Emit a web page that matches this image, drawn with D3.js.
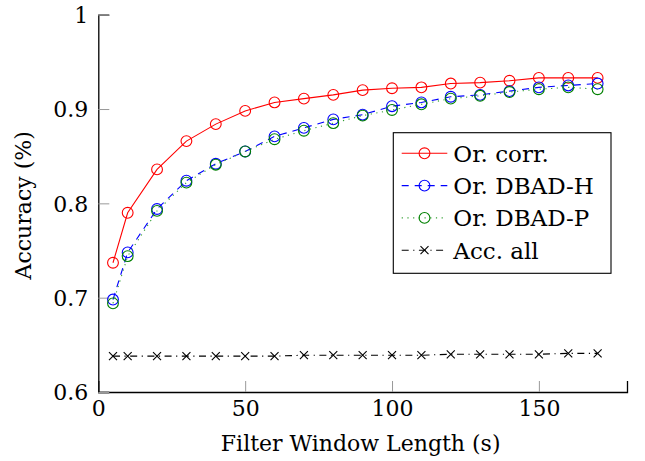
<!DOCTYPE html>
<html>
<head>
<meta charset="utf-8">
<script src="https://cdn.jsdelivr.net/npm/d3@7"></script>
<style>
    body { margin: 0; background: #fff; }
    svg { display: block; }
    svg text { font-family: "DejaVu Serif", "Liberation Serif", serif; fill: #000; }
    .tick text { font-size: 22px; }
</style>
</head>
<body>
<div id="chart"></div>
<script>
// filter window lengths (s)
const windowLengths = [5, 10, 20, 30, 40, 50, 60, 70, 80, 90, 100, 110, 120, 130, 140, 150, 160, 170];
const orCorr = [0.737, 0.790, 0.836, 0.866, 0.884, 0.898, 0.907, 0.911, 0.915, 0.920, 0.922, 0.923, 0.927, 0.928, 0.930, 0.933, 0.933, 0.933];
const orDbadH = [0.698, 0.748, 0.794, 0.824, 0.842, 0.855, 0.871, 0.880, 0.889, 0.894, 0.903, 0.907, 0.913, 0.915, 0.919, 0.923, 0.925, 0.927];
const orDbadP = [0.694, 0.744, 0.792, 0.822, 0.841, 0.855, 0.868, 0.877, 0.885, 0.893, 0.899, 0.905, 0.911, 0.914, 0.918, 0.921, 0.923, 0.921];
const accAll = [0.638, 0.638, 0.638, 0.638, 0.638, 0.638, 0.638, 0.639, 0.639, 0.639, 0.639, 0.639, 0.640, 0.640, 0.640, 0.640, 0.641, 0.641];

const xTicks = [0, 50, 100, 150];
const yTicks = [0.6, 0.7, 0.8, 0.9, 1];
const seriesNames = ['Or. corr.', 'Or. DBAD-H', 'Or. DBAD-P', 'Acc. all'];

const width = 645, height = 461;
const margin = {top: 14.7, right: 18, bottom: 69, left: 98.3};

const svg = d3.select('#chart').append('svg')
    .attr('width', width)
    .attr('height', height);

const x = d3.scaleLinear().domain([0, 180]).range([margin.left, width - margin.right]);
const y = d3.scaleLinear().domain([0.6, 1]).range([height - margin.bottom, margin.top]);

const series = [
    {name: seriesNames[0], values: orCorr, color: '#ff0000', dash: null, marker: 'circle', markColor: '#ff0000'},
    {name: seriesNames[1], values: orDbadH, color: '#0000ff', dash: '7,6', marker: 'circle', markColor: '#0000ff'},
    {name: seriesNames[2], values: orDbadP, color: '#33a033', dash: '1.2,4.5', marker: 'circle', markColor: '#008000'},
    {name: seriesNames[3], values: accAll, color: '#000000', dash: '7,4.5,1.2,4.5', marker: 'cross', markColor: '#000000'}
];

// axes
const xAxis = svg.append('g')
    .attr('transform', `translate(0,${y(0.6)})`)
    .call(d3.axisBottom(x).tickValues(xTicks).tickFormat(d3.format('d')).tickSize(-11).tickPadding(8));
const yAxis = svg.append('g')
    .attr('transform', `translate(${x(0)},0)`)
    .call(d3.axisLeft(y).tickValues(yTicks).tickFormat(d => d === 1 ? '1' : d.toFixed(1)).tickSize(-11).tickPadding(10));

[xAxis, yAxis].forEach(a => {
    a.attr('font-family', null);
    a.select('.domain').attr('stroke', '#000').attr('stroke-width', 1.3);
    a.selectAll('.tick line').attr('stroke', '#999').attr('stroke-width', 1);
});
yAxis.selectAll('.tick text').attr('dy', '0.36em');

// axis labels
svg.append('text')
    .attr('x', (x(0) + x(180)) / 2 - 2)
    .attr('y', 451)
    .attr('text-anchor', 'middle')
    .style('font-size', '22px')
    .text('Filter Window Length (s)');

svg.append('text')
    .attr('transform', `translate(31,${(y(0.6) + y(1)) / 2 + 2}) rotate(-90)`)
    .attr('text-anchor', 'middle')
    .style('font-size', '22px')
    .text('Accuracy (%)');

function drawMarker(g, type, cx, cy, color) {
    if (type === 'circle') {
        g.append('circle')
            .attr('cx', cx).attr('cy', cy).attr('r', 5.4)
            .attr('fill', 'none').attr('stroke', color).attr('stroke-width', 1.1);
    } else {
        const s = 4;
        g.append('path')
            .attr('d', `M${cx - s},${cy - s}L${cx + s},${cy + s}M${cx - s},${cy + s}L${cx + s},${cy - s}`)
            .attr('stroke', color).attr('stroke-width', 1.1);
    }
}

const line = d3.line()
    .x((d, i) => x(windowLengths[i]))
    .y(d => y(d));

series.forEach(s => {
    const g = svg.append('g');
    g.append('path')
        .datum(s.values)
        .attr('d', line)
        .attr('fill', 'none')
        .attr('stroke', s.color)
        .attr('stroke-width', 1.1)
        .attr('stroke-dasharray', s.dash);
    s.values.forEach((v, i) => drawMarker(g, s.marker, x(windowLengths[i]), y(v), s.markColor));
});

// legend
const legend = svg.append('g');
const lx = 393.3, ly = 132.7, lw = 217.7, lh = 140.6;
legend.append('rect')
    .attr('x', lx).attr('y', ly).attr('width', lw).attr('height', lh)
    .attr('fill', '#fff').attr('stroke', '#000').attr('stroke-width', 1.1);

series.forEach((s, i) => {
    const cy = 153.3 + i * 32.3;
    legend.append('line')
        .attr('x1', 401.7).attr('x2', 447.3)
        .attr('y1', cy).attr('y2', cy)
        .attr('stroke', s.color)
        .attr('stroke-width', 1.1)
        .attr('stroke-dasharray', s.dash);
    drawMarker(legend, s.marker, 424.5, cy, s.markColor);
    legend.append('text')
        .attr('x', 453.3)
        .attr('y', cy + 8.5)
        .style('font-size', '23px')
        .text(s.name);
});
</script>
</body>
</html>
